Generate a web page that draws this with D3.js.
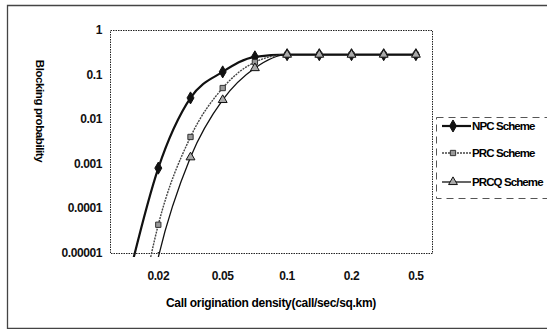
<!DOCTYPE html>
<html>
<head>
<meta charset="utf-8">
<script src="https://cdn.jsdelivr.net/npm/d3@7"></script>
<style>
  body { margin: 0; background: #fff; }
  svg { display: block; font-family: "Liberation Sans", Arial, sans-serif; }
</style>
</head>
<body>
<div id="chart"></div>
<script>
// categories on the x axis (only every second one gets a label)
let categories = ["0.01", "0.02", "0.03", "0.05", "0.07", "0.1", "0.15", "0.2", "0.3", "0.5"];
let xTickLabels = ["0.02", "0.05", "0.1", "0.2", "0.5"];
let yTicks = [1, 0.1, 0.01, 0.001, 0.0001, 0.00001];
let yTickLabels = ["1", "0.1", "0.01", "0.001", "0.0001", "0.00001"];

// blocking probability per scheme
let npc = [1.6e-6, 0.0008, 0.03, 0.115, 0.25, 0.28, 0.28, 0.28, 0.28, 0.28];
let prc = [1e-8, 0.000043, 0.004, 0.05, 0.19, 0.28, 0.28, 0.28, 0.28, 0.28];
let prcq = [1e-9, 0.000008, 0.0014, 0.027, 0.14, 0.28, 0.28, 0.28, 0.28, 0.28];
let seriesNames = ["NPC Scheme", "PRC Scheme", "PRCQ Scheme"];

let width = 547, height = 329;
let plot = {left: 110, right: 432, top: 30, bottom: 253};

let svg = d3.select("#chart").append("svg")
    .attr("width", width)
    .attr("height", height);

// outer frame of the figure
svg.append("path")
    .attr("d", "M560,5.5 H7.5 V328.5 H560")
    .attr("fill", "none")
    .attr("stroke", "#444")
    .attr("stroke-width", 1.3);

let x = d3.scaleBand().domain(categories).range([plot.left, plot.right]);
let y = d3.scaleLog().domain([0.00001, 1]).range([plot.bottom, plot.top]);
let cx = d => x(d) + x.bandwidth() / 2;

// plot area border (dotted)
svg.append("rect")
    .attr("x", plot.left + 0.5).attr("y", plot.top + 0.5)
    .attr("width", plot.right - plot.left).attr("height", plot.bottom - plot.top)
    .attr("fill", "none")
    .attr("stroke", "#222")
    .attr("stroke-width", 1)
    .attr("stroke-dasharray", "1.5,1");

// y tick labels
svg.selectAll(".ytick")
    .data(yTicks)
    .enter().append("text")
    .attr("class", "ytick")
    .attr("x", 102)
    .attr("y", d => y(d) + 4)
    .attr("text-anchor", "end")
    .attr("font-size", 12)
    .attr("font-weight", "bold")
    .attr("letter-spacing", -0.4)
    .attr("fill", "#111")
    .text((d, i) => yTickLabels[i]);

// x tick labels, every second category
svg.selectAll(".xtick")
    .data(xTickLabels)
    .enter().append("text")
    .attr("class", "xtick")
    .attr("x", d => cx(d))
    .attr("y", 280)
    .attr("text-anchor", "middle")
    .attr("font-size", 12)
    .attr("font-weight", "bold")
    .attr("letter-spacing", -0.4)
    .attr("fill", "#111")
    .text(d => d);

// axis titles
svg.append("text")
    .attr("x", 271).attr("y", 307)
    .attr("text-anchor", "middle")
    .attr("font-size", 12)
    .attr("font-weight", "bold")
    .attr("letter-spacing", -0.3)
    .text("Call origination density(call/sec/sq.km)");

svg.append("text")
    .attr("transform", "translate(36,111) rotate(90)")
    .attr("text-anchor", "middle")
    .attr("font-size", 11.5)
    .attr("font-weight", "bold")
    .attr("letter-spacing", -0.4)
    .text("Blocking probability");

// clips: lines may run a little past the bottom, markers may not
svg.append("clipPath").attr("id", "clip")
    .append("rect")
    .attr("x", plot.left).attr("y", plot.top)
    .attr("width", plot.right - plot.left).attr("height", plot.bottom - plot.top + 4);
svg.append("clipPath").attr("id", "clipm")
    .append("rect")
    .attr("x", plot.left).attr("y", plot.top - 10)
    .attr("width", plot.right - plot.left + 10).attr("height", plot.bottom - plot.top + 10);

let line = d3.line()
    .x((d, i) => cx(categories[i]))
    .y(d => y(d))
    .curve(d3.curveMonotoneX);

let styles = [
    {data: npc, stroke: "#111", width: 2.2, dash: null, marker: d3.symbolDiamond, size: 42, fill: "#111", mstroke: "#111"},
    {data: prc, stroke: "#444", width: 1.4, dash: "2,1", marker: d3.symbolSquare, size: 28, fill: "#999", mstroke: "#333"},
    {data: prcq, stroke: "#111", width: 1.3, dash: null, marker: d3.symbolTriangle, size: 34, fill: "#aaa", mstroke: "#111"}
];

let g = svg.append("g").attr("clip-path", "url(#clip)");
let gm = svg.append("g").attr("clip-path", "url(#clipm)");

styles.forEach(s => {
    g.append("path")
        .attr("d", line(s.data))
        .attr("fill", "none")
        .attr("stroke", s.stroke)
        .attr("stroke-width", s.width)
        .attr("stroke-dasharray", s.dash);
});

styles.forEach(s => {
    gm.selectAll(null)
        .data(s.data)
        .enter().append("path")
        .attr("d", d3.symbol().type(s.marker).size(s.size))
        .attr("transform", (d, i) => "translate(" + cx(categories[i]) + "," + y(d) + ")")
        .attr("fill", s.fill)
        .attr("stroke", s.mstroke)
        .attr("stroke-width", 1);
});

// legend
let legend = svg.append("g");
legend.append("rect")
    .attr("x", 436.5).attr("y", 117.5)
    .attr("width", 130).attr("height", 81)
    .attr("fill", "#fff")
    .attr("stroke", "#555")
    .attr("stroke-dasharray", "7,5");

let legendY = [126, 153, 182];
styles.forEach((s, i) => {
    legend.append("line")
        .attr("x1", 442).attr("x2", 471)
        .attr("y1", legendY[i]).attr("y2", legendY[i])
        .attr("stroke", s.stroke)
        .attr("stroke-width", s.width)
        .attr("stroke-dasharray", s.dash);
    legend.append("path")
        .attr("d", d3.symbol().type(s.marker).size(s.size))
        .attr("transform", "translate(453," + legendY[i] + ")")
        .attr("fill", s.fill)
        .attr("stroke", s.mstroke);
    legend.append("text")
        .attr("x", 472).attr("y", legendY[i] + 4)
        .attr("font-size", 11.5)
        .attr("font-weight", "bold")
        .attr("letter-spacing", -0.9)
        .text(seriesNames[i]);
});
</script>
</body>
</html>
